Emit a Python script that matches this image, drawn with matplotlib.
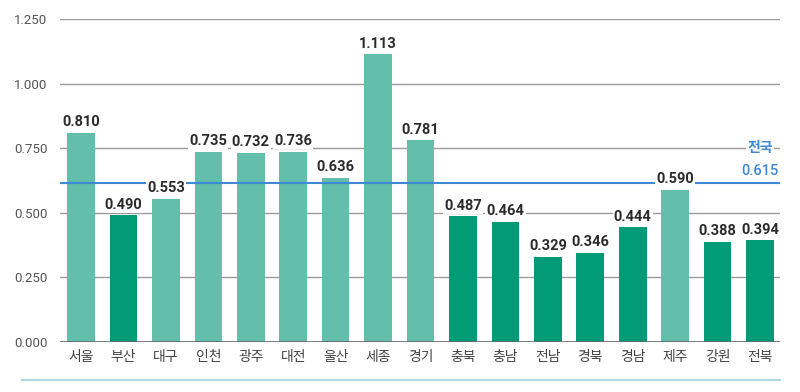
import matplotlib
matplotlib.use("Agg")
import matplotlib.pyplot as plt
from matplotlib.lines import Line2D

plt.rcParams['font.family'] = ['Noto Sans CJK KR', 'DejaVu Sans']

regions = ['서울', '부산', '대구', '인천', '광주', '대전', '울산', '세종', '경기',
           '충북', '충남', '전남', '경북', '경남', '제주', '강원', '전북']
values = [0.810, 0.490, 0.553, 0.735, 0.732, 0.736, 0.636, 1.113, 0.781,
          0.487, 0.464, 0.329, 0.346, 0.444, 0.590, 0.388, 0.394]
group = ['L', 'D', 'L', 'L', 'L', 'L', 'L', 'L', 'L',
         'D', 'D', 'D', 'D', 'D', 'L', 'D', 'D']
national = 0.615
yticks = [0.0, 0.25, 0.5, 0.75, 1.0, 1.25]

LIGHT = '#63BEAC'
DARK = '#019B77'
BLUE = '#3F88D4'
NARROW = ['Roboto', 'DejaVu Sans']

fig = plt.figure(figsize=(8, 3.92), dpi=100)
ax = fig.add_axes([0.075, 0.1276, 0.9, 0.824])

x = list(range(len(regions)))
colors = [LIGHT if g == 'L' else DARK for g in group]
ax.bar(x, values, width=0.65, color=colors, zorder=2)

for yt in yticks[1:]:
    ax.axhline(yt, color='#9a9a9a', lw=1.0, zorder=1)
ax.axhline(0, color='#666666', lw=1.2, zorder=3)
ax.axhline(national, color=BLUE, lw=1.5, zorder=3)

for xi, v in zip(x, values):
    ax.text(xi, v + 0.014, f'{v:.3f}', ha='center', va='bottom',
            fontsize=10.5, fontweight='bold',
            family=NARROW, color='#2b2b2b', zorder=5,
            bbox=dict(boxstyle='square,pad=0.08', fc='white', ec='none'))

ax.text(16.0, 0.75, '전국', ha='center', va='center', fontsize=10,
        fontweight='bold', color=BLUE, zorder=5,
        bbox=dict(boxstyle='square,pad=0.1', fc='white', ec='none'))
ax.text(16.0, national + 0.02, f'{national:.3f}', ha='center', va='bottom',
        fontsize=10.5, fontweight='medium', family=NARROW, color=BLUE, zorder=5)

ax.set_xlim(-0.495, 16.47)
ax.set_ylim(0, 1.25)
ax.set_yticks(yticks)
ax.set_yticklabels([f'{t:.3f}' for t in yticks], fontsize=9.5, color='#555555',
                   family=NARROW)
ax.set_xticks(x)
ax.set_xticklabels(regions, fontsize=10, color='#444444')
ax.tick_params(length=0, pad=6)
ax.tick_params(axis='y', pad=9)
for s in ax.spines.values():
    s.set_visible(False)

fig.add_artist(Line2D([0.0275, 0.975], [0.031, 0.031], color='#b2d6df', lw=1.5,
                      transform=fig.transFigure))

fig.savefig('out.png', dpi=100)
